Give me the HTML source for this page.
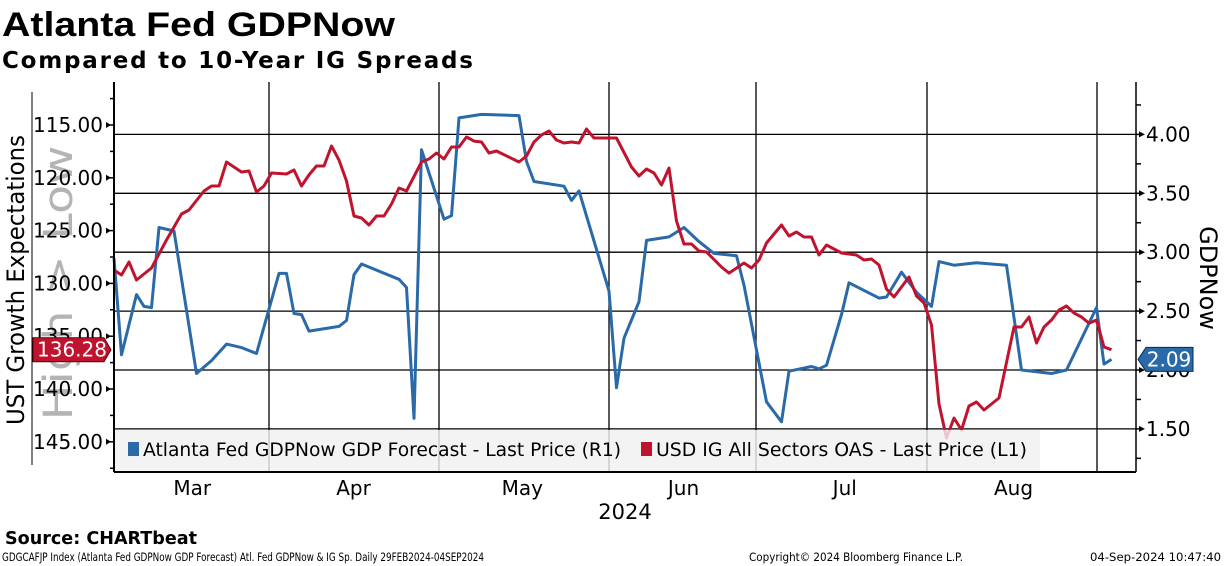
<!DOCTYPE html>
<html><head><meta charset="utf-8"><style>
html,body{margin:0;padding:0;background:#fff;}
svg{display:block;font-family:"Liberation Sans","DejaVu Sans",sans-serif;}
</style></head><body>
<svg id="chart" width="1224" height="566" viewBox="0 0 1224 566" xmlns="http://www.w3.org/2000/svg">
<text x="2" y="36" font-size="34" font-weight="bold" textLength="393" lengthAdjust="spacingAndGlyphs">Atlanta Fed GDPNow</text>
<text x="2" y="68" font-size="23" font-weight="bold" font-family="DejaVu Sans, sans-serif" textLength="471" lengthAdjust="spacing">Compared to 10-Year IG Spreads</text>
<g id="grid"></g>
<text transform="translate(72,283) rotate(-90)" text-anchor="middle" font-size="40" fill="#b4b4b4" font-family="DejaVu Sans, sans-serif" textLength="275" lengthAdjust="spacingAndGlyphs">High &gt; Low</text>
<g id="series"></g>
<rect x="115" y="430" width="925" height="41" fill="#f0f0f0" fill-opacity="0.82"/>
<rect x="128" y="442" width="11" height="14" fill="#2a6aa8"/>
<text x="143" y="456" font-size="19" font-family="DejaVu Sans, sans-serif" textLength="478" lengthAdjust="spacingAndGlyphs">Atlanta Fed GDPNow GDP Forecast - Last Price (R1)</text>
<rect x="641" y="442" width="11" height="14" fill="#c0142e"/>
<text x="656" y="456" font-size="19" font-family="DejaVu Sans, sans-serif" textLength="371" lengthAdjust="spacingAndGlyphs">USD IG All Sectors OAS - Last Price (L1)</text>
<g id="axes"></g>
<line x1="32" y1="92" x2="32" y2="465" stroke="#000" stroke-width="1"/>
<text transform="translate(24,280) rotate(-90)" text-anchor="middle" font-size="24" font-family="DejaVu Sans, sans-serif" textLength="290" lengthAdjust="spacingAndGlyphs">UST Growth Expectations</text>
<text transform="translate(1200,278) rotate(90)" text-anchor="middle" font-size="24" font-family="DejaVu Sans, sans-serif">GDPNow</text>
<text x="625" y="519" text-anchor="middle" font-size="21" font-family="DejaVu Sans, sans-serif">2024</text>
<text x="5" y="544" font-size="18" font-weight="bold" font-family="DejaVu Sans, sans-serif" textLength="192" lengthAdjust="spacingAndGlyphs">Source: CHARTbeat</text>
<text x="2" y="561" font-size="11.5" font-family="DejaVu Sans, sans-serif" textLength="482" lengthAdjust="spacingAndGlyphs">GDGCAFJP Index (Atlanta Fed GDPNow GDP Forecast) Atl. Fed GDPNow &amp; IG Sp.  Daily 29FEB2024-04SEP2024</text>
<text x="749" y="561" font-size="11.5" font-family="DejaVu Sans, sans-serif" textLength="214" lengthAdjust="spacingAndGlyphs">Copyright© 2024 Bloomberg Finance L.P.</text>
<text x="1221" y="561" text-anchor="end" font-size="11.5" font-family="DejaVu Sans, sans-serif" textLength="131" lengthAdjust="spacingAndGlyphs">04-Sep-2024 10:47:40</text>
<g id="tags"></g>
</svg>
<script>
const gdpDays=[0,1,3,4,5,6,8,11,13,15,17,19,22,23,24,25,26,30,31,32,33,38,39,40,41,44,45,46,49,54,55,56,60,61,62,66,67,68,70,71,74,76,78,80,83,84,87,89,90,93,94,95,97,98,102,103,105,107,109,110,112,115,119,121,125,127,131,132,133];
const gdpVals=[2.95,2.13,2.64,2.54,2.53,3.21,3.18,1.97,2.08,2.22,2.19,2.14,2.82,2.82,2.48,2.47,2.33,2.37,2.42,2.81,2.90,2.77,2.70,1.59,3.87,3.28,3.31,4.14,4.17,4.16,3.77,3.60,3.56,3.44,3.52,2.67,1.85,2.27,2.58,3.10,3.13,3.21,3.09,2.99,2.97,2.72,1.73,1.56,1.99,2.03,2.01,2.04,2.47,2.74,2.61,2.62,2.83,2.66,2.54,2.92,2.89,2.91,2.89,2.00,1.97,2.00,2.53,2.05,2.09];
const oasDays=[0,1,2,3,5,7,9,10,12,13,14,15,17,18,19,20,21,23,24,25,26,27,28,29,30,31,32,33,34,35,36,37,38,39,41,42,43,44,45,46,47,48,49,50,51,54,55,56,57,58,59,60,61,62,63,64,67,69,70,71,72,73,74,75,76,77,78,79,81,82,84,85,86,87,88,89,90,91,92,93,94,95,97,98,99,100,101,102,103,104,106,107,108,109,110,111,112,113,114,115,116,118,120,121,122,123,124,125,126,127,128,129,130,131,132,133];
const oasVals=[128.73,129.20,127.97,129.68,128.54,125.89,123.43,123.05,121.25,120.78,120.78,118.50,119.45,119.36,121.34,120.78,119.55,119.64,119.26,120.78,119.73,118.88,118.88,116.99,118.31,120.30,123.62,123.81,124.47,123.62,123.62,122.48,120.97,121.25,118.50,118.22,117.65,118.22,117.08,117.08,116.14,116.52,116.61,117.65,117.46,118.50,117.94,116.61,115.95,115.57,116.42,116.70,116.61,116.70,115.38,116.23,116.23,118.98,119.83,119.17,119.55,120.68,119.07,124.09,126.27,126.27,126.93,127.03,128.45,129.02,128.07,128.54,127.78,126.17,125.32,124.47,125.51,125.13,125.61,125.61,127.31,126.36,127.12,127.22,127.31,127.78,127.69,128.26,130.53,131.29,129.39,131.19,131.86,133.94,141.42,144.64,142.75,143.88,141.61,141.23,141.99,140.85,134.13,134.13,133.18,135.64,134.13,133.47,132.52,132.14,132.80,133.18,133.77,133.47,136.02,136.28];
const leftTicks=[115,120,125,130,135,140,145];
const rightTicks=[1.5,2.0,2.5,3.0,3.5,4.0];
const monthLabels=["Mar","Apr","May","Jun","Jul","Aug"];
const monthStartDays=[1,22,44,67,87,110,132];

const NS="http://www.w3.org/2000/svg";
const PL=114,PR=1136,PT=82,PB=472;
function x(d){return PL+d*7.5;}
function yL(v){return 125+(v-115)*10.56;}
function yR(v){return 370-(v-2)*117.8;}
function mk(tag,attrs,parent){const e=document.createElementNS(NS,tag);for(const k in attrs)e.setAttribute(k,attrs[k]);parent.appendChild(e);return e;}
const grid=document.getElementById('grid'),axes=document.getElementById('axes'),series=document.getElementById('series'),tags=document.getElementById('tags');

rightTicks.forEach(v=>{const l=mk('line',{x1:PL,x2:PR,y1:yR(v),y2:yR(v),stroke:'#000','stroke-width':1.3},grid);

});
const gridX=[269,439,609,756,927,1097];
gridX.forEach(gx=>{const l=mk('line',{x1:gx,x2:gx,y1:PT,y2:PB,stroke:'#000','stroke-width':1.3},grid);

});

function path(days,vals,yf,color,name){
 let d='';days.forEach((dd,i)=>{d+=(i?'L':'M')+x(dd).toFixed(1)+','+yf(vals[i]).toFixed(1);});
 const p=mk('path',{d:d,fill:'none',stroke:color,'stroke-width':3,'stroke-linejoin':'round'},series);
 
 
}
path(gdpDays,gdpVals,yR,'#2a6aa8','gdpnow-line');
path(oasDays,oasVals,yL,'#c0142e','ig-oas-line');

let a=mk('line',{x1:PL,x2:PL,y1:PT,y2:PB,stroke:'#000','stroke-width':2},axes);


a=mk('line',{x1:PR,x2:PR,y1:PT,y2:PB,stroke:'#000','stroke-width':1.5},axes);


a=mk('line',{x1:PL,x2:PR,y1:PB,y2:PB,stroke:'#000','stroke-width':2},axes);



for(let v=112.5;v<=147.5;v+=2.5){const y=yL(v);if(y<PT||y>PB)continue;const major=v%5===0;
 const t=mk('line',{x1:PL-(major?7:4),x2:PL,y1:y,y2:y,stroke:'#000','stroke-width':1.5},axes);
 
 }
leftTicks.forEach(v=>{const t=mk('text',{x:103,y:yL(v)+7,'text-anchor':'end','font-size':20,'font-family':'DejaVu Sans, sans-serif'},axes);t.textContent=v.toFixed(2);
 
 
 mk('path',{d:`M${PL-8},${yL(v)-3}L${PL-3},${yL(v)}L${PL-8},${yL(v)+3}Z`,fill:'#000'},axes);});
for(let v=1.25;v<=4.25;v+=0.25){const y=yR(v);if(y<PT||y>PB)continue;
 const t=mk('line',{x1:PR,x2:PR+5,y1:y,y2:y,stroke:'#000','stroke-width':1.5},axes);
 
 }
rightTicks.forEach(v=>{const t=mk('text',{x:1146,y:yR(v)+7,'font-size':20,'font-family':'DejaVu Sans, sans-serif'},axes);t.textContent=v.toFixed(2);
 
 
 mk('path',{d:`M${PR+3},${yR(v)-3}L${PR+9},${yR(v)}L${PR+3},${yR(v)+3}Z`,fill:'#000'},axes);});
monthLabels.forEach((m,i)=>{const cx=(x(monthStartDays[i])+x(monthStartDays[i+1]))/2-8;
 const t=mk('text',{x:cx,y:495,'text-anchor':'middle','font-size':20,'font-family':'DejaVu Sans, sans-serif'},axes);t.textContent=m;
 
 });

const lastO=oasVals[oasVals.length-1],yo=yL(lastO);
let g=mk('path',{d:`M33,${yo-12}L104,${yo-12}L111,${yo}L104,${yo+12}L33,${yo+12}Z`,fill:'#c0142e',stroke:'#5a0010','stroke-width':1},tags);


let tt=mk('text',{x:72,y:yo+7,'text-anchor':'middle','font-size':20,fill:'#fff','font-family':'DejaVu Sans, sans-serif'},tags);tt.textContent=lastO.toFixed(2);


const lastG=gdpVals[gdpVals.length-1],yg=yR(lastG);
g=mk('path',{d:`M1138,${yg}L1146,${yg-12}L1193,${yg-12}L1193,${yg+12}L1146,${yg+12}Z`,fill:'#2a6aa8',stroke:'#0a2a50','stroke-width':1},tags);


tt=mk('text',{x:1169,y:yg+7,'text-anchor':'middle','font-size':20,fill:'#fff','font-family':'DejaVu Sans, sans-serif'},tags);tt.textContent=lastG.toFixed(2);


</script>
</body></html>
